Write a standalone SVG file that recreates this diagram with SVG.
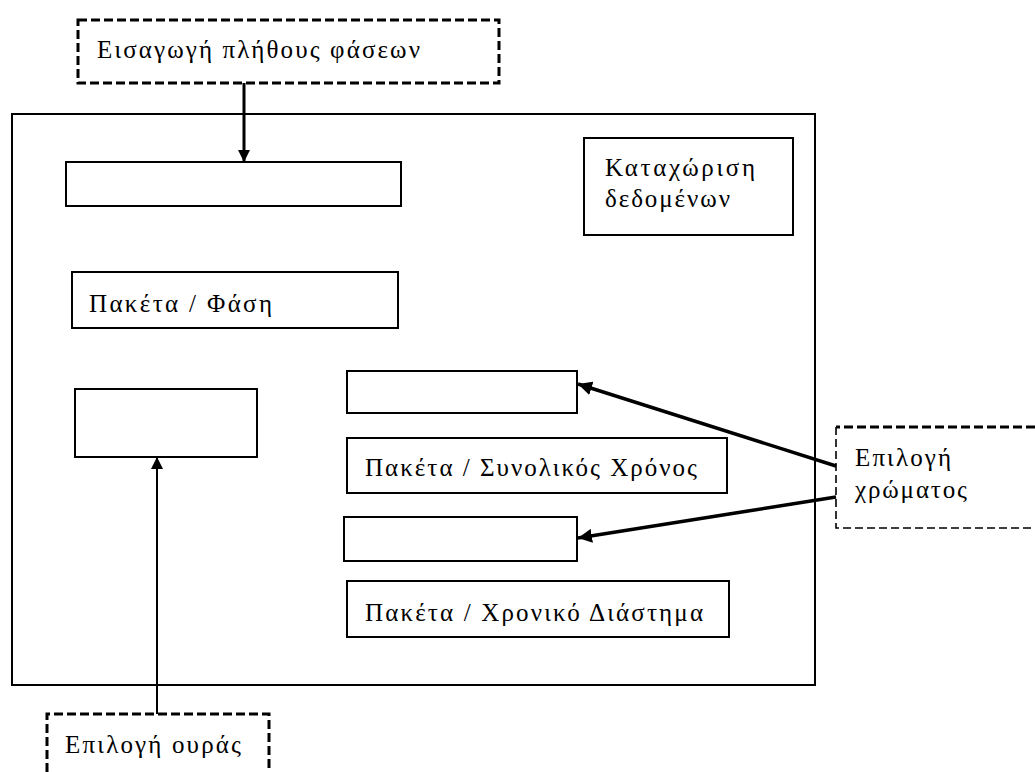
<svg xmlns="http://www.w3.org/2000/svg" width="1035" height="772" viewBox="0 0 1035 772">
<defs>
<style>
.box{fill:#fff;stroke:#000;stroke-width:2}
.dash{fill:none;stroke:#000;stroke-width:3;stroke-dasharray:9 4}
.thin{fill:none;stroke:#000;stroke-width:1.6;stroke-dasharray:8 4}
.t{font-family:"Liberation Serif","DejaVu Serif",serif;font-size:25px;fill:#000}
.c{stroke:#000;fill:none}
</style>
<marker id="ah" viewBox="0 0 10 10" refX="10" refY="5" markerWidth="4" markerHeight="4" markerUnits="strokeWidth" orient="auto">
<path d="M0,0 L10,5 L0,10 z" fill="#000"/>
</marker>
<marker id="ah2" viewBox="0 0 10 10" refX="10" refY="5" markerWidth="6" markerHeight="6" markerUnits="strokeWidth" orient="auto">
<path d="M0,0 L10,5 L0,10 z" fill="#000"/>
</marker>
</defs>
<rect width="1035" height="772" fill="#fff"/>
<g id="main">
<rect class="box" x="12" y="114" width="803" height="571"/>
</g>
<g id="n-eisagogi">
<rect class="dash" x="78" y="20" width="421" height="63"/>
<text class="t" x="97" y="58" textLength="323" lengthAdjust="spacing">Εισαγωγή πλήθους φάσεων</text>
</g>
<g id="n-box1">
<rect class="box" x="66" y="162" width="335" height="44"/>
</g>
<g id="n-kataxorisi">
<rect class="box" x="584" y="138" width="209" height="97"/>
<text class="t" x="605" y="176" textLength="150" lengthAdjust="spacing">Καταχώριση</text>
<text class="t" x="605" y="207" textLength="125" lengthAdjust="spacing">δεδομένων</text>
</g>
<g id="n-fasi">
<rect class="box" x="72" y="272" width="326" height="56"/>
<text class="t" x="89" y="312" textLength="183" lengthAdjust="spacing">Πακέτα / Φάση</text>
</g>
<g id="n-left">
<rect class="box" x="75" y="389" width="182" height="68"/>
</g>
<g id="n-boxA">
<rect class="box" x="347" y="371" width="230" height="42"/>
</g>
<g id="n-synolikos">
<rect class="box" x="347" y="438" width="380" height="55"/>
<text class="t" x="365" y="476" textLength="332" lengthAdjust="spacing">Πακέτα / Συνολικός  Χρόνος</text>
</g>
<g id="n-boxC">
<rect class="box" x="344" y="517" width="233" height="44"/>
</g>
<g id="n-xroniko">
<rect class="box" x="347" y="581" width="382" height="56"/>
<text class="t" x="365" y="621" textLength="338" lengthAdjust="spacing">Πακέτα / Χρονικό  Διάστημα</text>
</g>
<g id="n-xromatos">
<path d="M1035,427 L836,427" class="dash"/>
<path d="M836,427 L836,528 L1035,528" class="thin"/>
<text class="t" x="855" y="466" textLength="96" lengthAdjust="spacing">Επιλογή</text>
<text class="t" x="855" y="498" textLength="112" lengthAdjust="spacing">χρώματος</text>
</g>
<g id="n-oura">
<path d="M47,772 L47,714 L269,714 L269,772" class="dash"/>
<text class="t" x="65" y="753" textLength="176" lengthAdjust="spacing">Επιλογή ουράς</text>
</g>
<g id="connectors">
<line class="c" x1="244" y1="83" x2="244" y2="162" stroke-width="3" marker-end="url(#ah)"/>
<line class="c" x1="157" y1="714" x2="157" y2="457" stroke-width="2" marker-end="url(#ah2)"/>
<line class="c" x1="836" y1="466" x2="578" y2="384" stroke-width="3.5" marker-end="url(#ah)"/>
<line class="c" x1="836" y1="497" x2="578" y2="538" stroke-width="3.5" marker-end="url(#ah)"/>
</g>
</svg>
